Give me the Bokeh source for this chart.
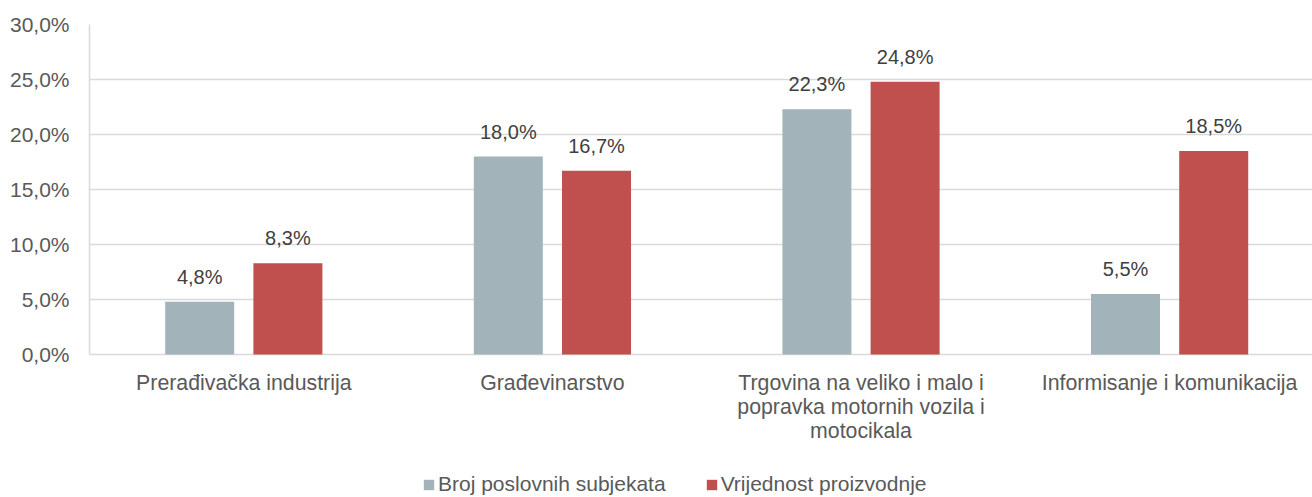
from bokeh.plotting import figure
from bokeh.models import ColumnDataSource, Range1d, FixedTicker, Legend, LegendItem
from bokeh.embed import file_html
from bokeh.resources import INLINE
from bokeh.core.properties import value

categories = ["Prerađivačka industrija", "Građevinarstvo",
              "Trgovina na veliko i malo i\npopravka motornih vozila i\nmotocikala",
              "Informisanje i komunikacija"]
series_names = ["Broj poslovnih subjekata", "Vrijednost proizvodnje"]
broj = [4.8, 18.0, 22.3, 5.5]
vrijednost = [8.3, 16.7, 24.8, 18.5]
y_ticks = [0, 5, 10, 15, 20, 25, 30]
y_tick_labels = ["0,0%", "5,0%", "10,0%", "15,0%", "20,0%", "25,0%", "30,0%"]

FONT = "Liberation Sans"
AXIS_COLOR = "#595959"
LABEL_COLOR = "#404040"
GRID = "#d9d9d9"
GRAY = "#a2b4ba"
RED = "#c0504d"

centers = [i + 0.5 for i in range(len(categories))]
off = 0.1429
bw = 0.2236

# frame: 0% at y=354, 30% at y=24 ; extended below zero to host labels & legend
p = figure(width=1312, height=497, output_backend="svg", toolbar_location=None,
           x_range=Range1d(0, 3.963), y_range=Range1d(-13.0, 30),
           x_axis_location=None,
           min_border_left=89, min_border_top=24, min_border_right=0,
           min_border_bottom=0)
p.outline_line_color = None
p.background_fill_color = "white"
p.border_fill_color = "white"

s1 = ColumnDataSource(dict(x=[c - off for c in centers], top=broj,
                           lbl=[f"{v:.1f}%".replace(".", ",") for v in broj]))
s2 = ColumnDataSource(dict(x=[c + off for c in centers], top=vrijednost,
                           lbl=[f"{v:.1f}%".replace(".", ",") for v in vrijednost]))
sc = ColumnDataSource(dict(x=centers, y=[0] * len(centers), lbl=categories))

r1 = p.vbar(x="x", top="top", width=bw, source=s1, fill_color=GRAY, line_color=None)
r2 = p.vbar(x="x", top="top", width=bw, source=s2, fill_color=RED, line_color=None)

for s in (s1, s2):
    p.text(x="x", y="top", text="lbl", source=s, text_align="center",
           text_baseline="alphabetic", y_offset=-25, text_color=LABEL_COLOR,
           text_font=value(FONT), text_font_size="20px")

# category labels (x axis)
p.text(x="x", y="y", text="lbl", source=sc, text_align="center",
       text_baseline="top", y_offset=16, text_color=AXIS_COLOR,
       text_font=value(FONT), text_font_size="21.3px", text_line_height=1.02)

# grid
p.xgrid.visible = False
p.ygrid.ticker = FixedTicker(ticks=y_ticks)
p.ygrid.grid_line_color = GRID
p.ygrid.grid_line_width = 1.5

# y axis
p.yaxis.ticker = FixedTicker(ticks=y_ticks)
p.yaxis.bounds = (0, 30)
p.yaxis.major_label_overrides = {t: l for t, l in zip(y_ticks, y_tick_labels)}
p.yaxis.axis_line_color = GRID
p.yaxis.axis_line_width = 1.5
p.yaxis.major_tick_line_color = None
p.yaxis.major_tick_out = 0
p.yaxis.major_tick_in = 0
p.yaxis.minor_tick_line_color = None
p.yaxis.major_label_standoff = 20
p.yaxis.major_label_text_font = FONT
p.yaxis.major_label_text_font_size = "21px"
p.yaxis.major_label_text_color = AXIS_COLOR

legend = Legend(items=[LegendItem(label=series_names[0], renderers=[r1]),
                       LegendItem(label=series_names[1], renderers=[r2])],
                orientation="horizontal", location=(333, 1))
legend.label_text_font = FONT
legend.label_text_font_size = "21px"
legend.label_text_color = AXIS_COLOR
legend.glyph_width = 13
legend.glyph_height = 13
legend.label_standoff = 3
legend.spacing = 39
legend.border_line_color = None
legend.background_fill_alpha = 0
legend.padding = 0
legend.margin = 0
p.add_layout(legend, "center")

open("out.html", "w").write(file_html(p, INLINE))
